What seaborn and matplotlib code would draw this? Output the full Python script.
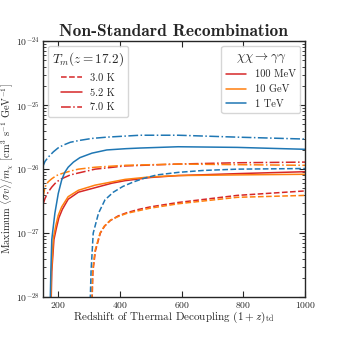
import numpy as np
import matplotlib
matplotlib.use("Agg")
import matplotlib.pyplot as plt
from matplotlib.lines import Line2D
import seaborn as sns

# -------------------------
# Data (y stored as log10 of <sigma v>/m_chi)
# -------------------------
# 1 TeV
x_tev_30 = [303, 307, 314, 331, 352, 379, 410, 444, 480, 520, 590, 671, 780, 1000]
y_tev_30 = [-28.3, -27.6, -27.0, -26.69, -26.48, -26.36, -26.27, -26.20, -26.14, -26.09, -26.05, -26.02, -26.00, -25.99]
x_tev_52 = [174, 177, 180, 190, 201, 212, 222, 233, 250, 271, 310, 358, 420, 466, 589, 780, 1000]
y_tev_52 = [-28.3, -27.6, -27.1, -26.69, -26.38, -26.17, -26.05, -25.97, -25.89, -25.82, -25.75, -25.70, -25.68, -25.67, -25.65, -25.66, -25.69]
x_tev_70 = [150, 158, 169, 185, 200, 217, 240, 271, 310, 358, 466, 589, 780, 1000]
y_tev_70 = [-25.97, -25.88, -25.81, -25.73, -25.67, -25.625, -25.58, -25.55, -25.52, -25.50, -25.47, -25.47, -25.50, -25.53]

# 10 GeV
x_gev_30 = [308, 312, 320, 336, 350, 369, 395, 423, 460, 498, 590, 780, 1000]
y_gev_30 = [-28.3, -27.6, -27.27, -27.0, -26.89, -26.80, -26.74, -26.69, -26.65, -26.61, -26.54, -26.44, -26.41]
x_gev_52 = [176, 179, 185, 193, 201, 212, 233, 266, 320, 374, 417, 500, 590, 780, 1000]
y_gev_52 = [-28.3, -27.6, -27.08, -26.88, -26.72, -26.59, -26.43, -26.33, -26.25, -26.20, -26.16, -26.12, -26.10, -26.09, -26.08]
x_gev_70 = [151, 158, 168, 180, 195, 212, 240, 266, 320, 417, 590, 780, 1000]
y_gev_70 = [-26.46, -26.28, -26.20, -26.15, -26.10, -26.07, -26.03, -26.00, -25.97, -25.94, -25.92, -25.93, -25.94]

# 100 MeV
x_mev_30 = [309, 313, 321, 337, 351, 370, 395, 423, 460, 498, 590, 780, 1000]
y_mev_30 = [-28.3, -27.6, -27.28, -27.0, -26.89, -26.80, -26.73, -26.68, -26.63, -26.59, -26.52, -26.41, -26.34]
x_mev_52 = [177, 180, 187, 195, 203, 214, 233, 266, 320, 374, 417, 500, 590, 780, 1000]
y_mev_52 = [-28.3, -27.6, -27.1, -26.92, -26.76, -26.63, -26.47, -26.36, -26.29, -26.22, -26.18, -26.13, -26.10, -26.07, -26.04]
x_mev_70 = [151, 158, 168, 180, 195, 212, 240, 266, 320, 417, 590, 780, 1000]
y_mev_70 = [-26.56, -26.46, -26.36, -26.28, -26.20, -26.15, -26.09, -26.06, -26.00, -25.95, -25.92, -25.90, -25.89]

temp_labels = ["3.0 K", "5.2 K", "7.0 K"]
mass_labels = ["100 MeV", "10 GeV", "1 TeV"]

RED = "#d62728"
ORANGE = "#ff7f0e"
BLUE = "#1f77b4"
styles = ["--", "-", "-."]

# -------------------------
# Style
# -------------------------
sns.set_style("ticks")
plt.rcParams["font.family"] = ["cmr10", "DejaVu Serif"]
plt.rcParams["mathtext.fontset"] = "cm"
plt.rcParams["axes.unicode_minus"] = False
plt.rcParams["axes.formatter.use_mathtext"] = True

fig = plt.figure(figsize=(3.4, 3.4), dpi=100)
ax = fig.add_axes([0.125, 0.126, 0.773, 0.753])

curves = [
    (x_mev_30, y_mev_30, RED, "--"), (x_mev_52, y_mev_52, RED, "-"), (x_mev_70, y_mev_70, RED, "-."),
    (x_gev_30, y_gev_30, ORANGE, "--"), (x_gev_52, y_gev_52, ORANGE, "-"), (x_gev_70, y_gev_70, ORANGE, "-."),
    (x_tev_30, y_tev_30, BLUE, "--"), (x_tev_52, y_tev_52, BLUE, "-"), (x_tev_70, y_tev_70, BLUE, "-."),
]
for xs, ys, c, ls in curves:
    sns.lineplot(x=np.array(xs), y=10.0 ** np.array(ys), ax=ax, color=c,
                 linestyle=ls, linewidth=1.1, sort=False)

ax.set_yscale("log")
ax.set_xlim(150, 1000)
ax.set_ylim(1e-28, 1e-24)
ax.set_xticks([200, 400, 600, 800, 1000])
ax.tick_params(which="both", direction="in", top=True, right=True, labelsize=7, pad=2)
ax.tick_params(which="major", length=4, width=0.8)
ax.tick_params(which="minor", length=2, width=0.6)
for s in ax.spines.values():
    s.set_linewidth(1.0)

ax.set_title("Non-Standard Recombination", fontfamily="cmb10", fontsize=12.5, pad=4)
ax.set_xlabel(r"Redshift of Thermal Decoupling $(1+z)_{\rm td}$", fontsize=8, labelpad=0)
ax.set_ylabel(r"Maximum $\langle\sigma v\rangle/m_\chi$ [cm$^3$ s$^{-1}$ GeV$^{-1}$]", fontsize=7.5)
ax.yaxis.set_label_coords(-0.1, 0.5)

# -------------------------
# Legends
# -------------------------
temp_handles = [Line2D([], [], color=RED, linestyle=ls, linewidth=1.1) for ls in styles]
leg1 = ax.legend(temp_handles, temp_labels, title=r"$T_m(z = 17.2)$", loc="upper left",
                 fontsize=7.5, title_fontsize=9.5, handlelength=2.0, borderaxespad=0.5)
ax.add_artist(leg1)

mass_handles = [Line2D([], [], color=c, linestyle="-", linewidth=1.1) for c in [RED, ORANGE, BLUE]]
ax.legend(mass_handles, mass_labels, title=r"$\chi\chi\rightarrow\gamma\gamma$", loc="upper right",
          fontsize=7.5, title_fontsize=9.5, handlelength=2.0, borderaxespad=0.5)

fig.savefig("out.png", dpi=100)
